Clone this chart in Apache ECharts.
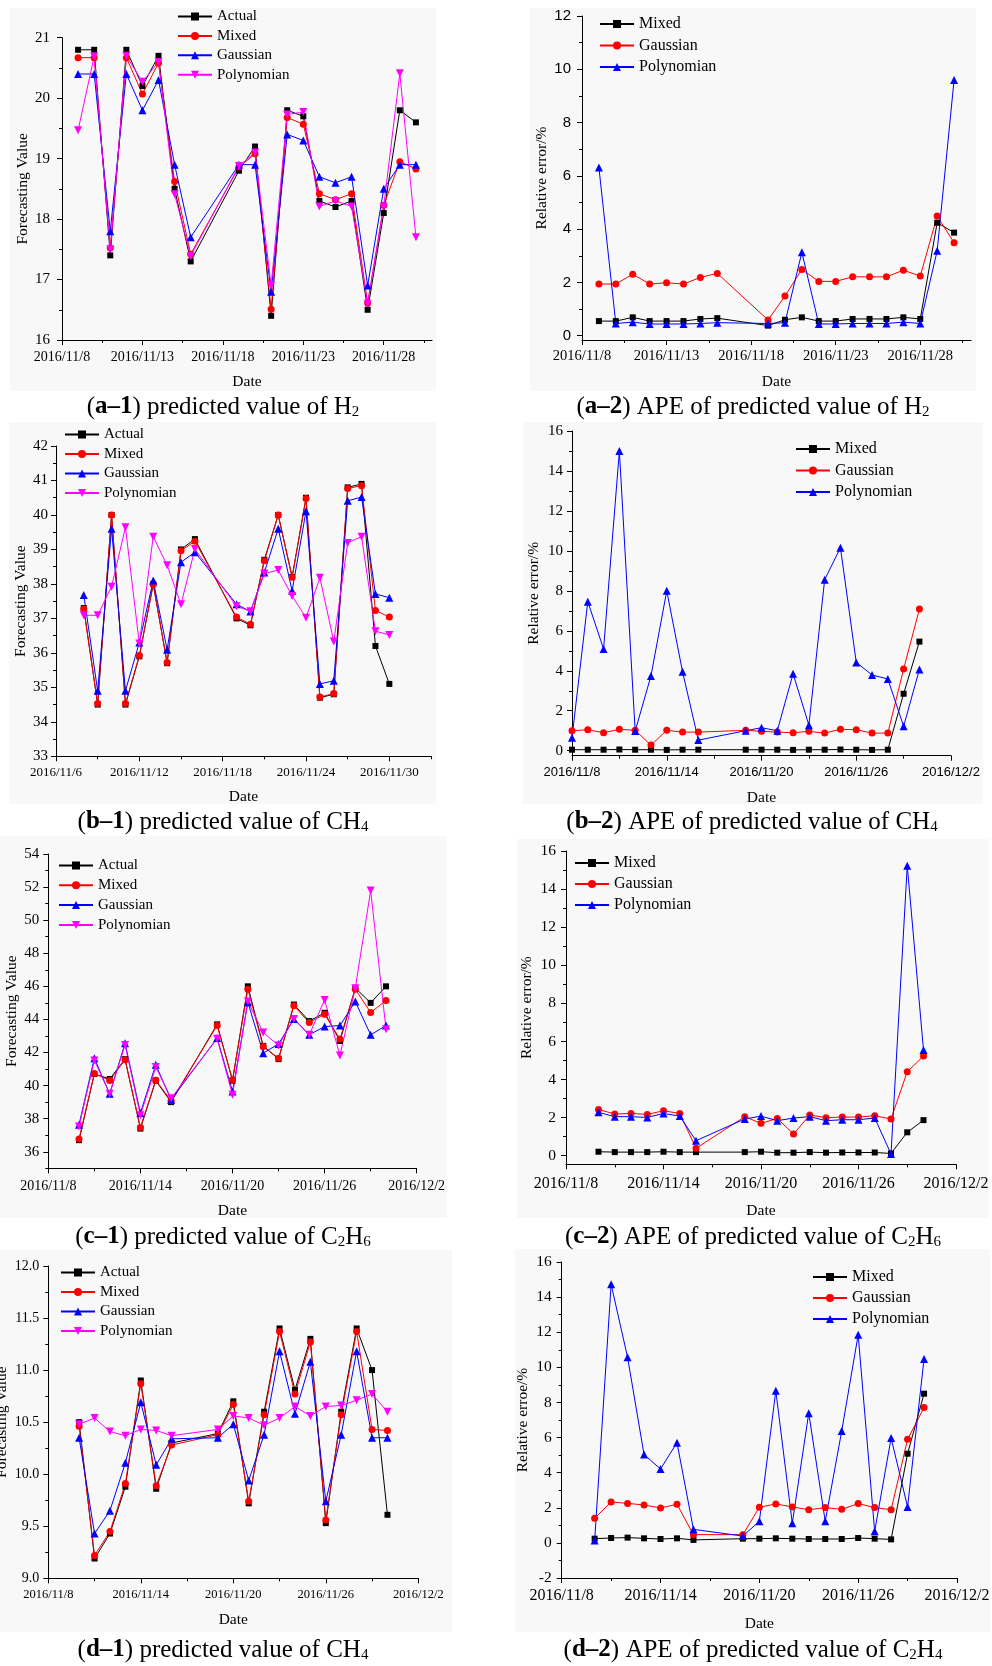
<!DOCTYPE html>
<html>
<head>
<meta charset="utf-8">
<script src="https://cdn.jsdelivr.net/npm/echarts@6/dist/echarts.min.js"></script>
<style>
  html, body { margin: 0; padding: 0; background: #fff; }
  #chart { width: 992px; height: 1666px; }
</style>
</head>
<body>
<div id="chart"></div>
<script>
// ---- dates (x values) ----
const datesA = ['2016/11/9', '2016/11/10', '2016/11/11', '2016/11/12', '2016/11/13', '2016/11/14', '2016/11/15', '2016/11/16',
  '2016/11/19', '2016/11/20', '2016/11/21', '2016/11/22', '2016/11/23', '2016/11/24', '2016/11/25', '2016/11/26',
  '2016/11/27', '2016/11/28', '2016/11/29', '2016/11/30'];
const datesB = ['2016/11/8', '2016/11/9', '2016/11/10', '2016/11/11', '2016/11/12', '2016/11/13', '2016/11/14', '2016/11/15', '2016/11/16',
  '2016/11/19', '2016/11/20', '2016/11/21', '2016/11/22', '2016/11/23', '2016/11/24', '2016/11/25', '2016/11/26',
  '2016/11/27', '2016/11/28', '2016/11/29', '2016/11/30'];
const datesC = ['2016/11/10', '2016/11/11', '2016/11/12', '2016/11/13', '2016/11/14', '2016/11/15', '2016/11/16',
  '2016/11/19', '2016/11/20', '2016/11/21', '2016/11/22', '2016/11/23', '2016/11/24', '2016/11/25', '2016/11/26',
  '2016/11/27', '2016/11/28', '2016/11/29', '2016/11/30'];

// ---- (a-1) H2 ----
const h2Actual = [20.8, 20.8, 17.4, 20.8, 20.2, 20.7, 18.5, 17.3, 18.8, 19.2, 16.4, 19.8, 19.7, 18.3, 18.2, 18.3, 16.5, 18.1, 19.8, 19.6];
const h2Mixed = [20.67, 20.67, 17.52, 20.67, 20.07, 20.58, 18.62, 17.42, 18.86, 19.08, 16.51, 19.68, 19.57, 18.42, 18.32, 18.42, 16.61, 18.23, 18.95, 18.83];
const h2Gauss = [20.4, 20.4, 17.8, 20.4, 19.8, 20.3, 18.9, 17.7, 18.9, 18.9, 16.8, 19.4, 19.3, 18.7, 18.6, 18.7, 16.9, 18.5, 18.9, 18.9];
const h2Poly = [19.47, 20.69, 17.5, 20.7, 20.27, 20.6, 18.41, 17.39, 18.88, 19.1, 16.9, 19.73, 19.77, 18.21, 18.3, 18.21, 16.6, 18.21, 20.41, 17.7];

// ---- (a-2) APE H2 ----
const h2ApeMixed = [0.55, 0.55, 0.69, 0.55, 0.55, 0.55, 0.63, 0.66, 0.38, 0.6, 0.69, 0.55, 0.55, 0.63, 0.63, 0.63, 0.69, 0.63, 4.24, 3.87];
const h2ApeGauss = [1.94, 1.94, 2.31, 1.94, 1.99, 1.94, 2.19, 2.34, 0.59, 1.49, 2.49, 2.04, 2.04, 2.21, 2.21, 2.21, 2.46, 2.24, 4.49, 3.49];
const h2ApePoly = [6.31, 0.46, 0.51, 0.44, 0.44, 0.44, 0.46, 0.49, 0.46, 0.49, 3.13, 0.44, 0.44, 0.46, 0.46, 0.46, 0.51, 0.46, 3.19, 9.6];

// ---- (b-1) CH4 ----
const ch4Actual = [37.3, 34.5, 40.0, 34.5, 35.9, 38.0, 35.7, 39.0, 39.3, 37.0, 36.8, 38.7, 40.0, 38.2, 40.5, 34.7, 34.8, 40.8, 40.9, 36.2, 35.1];
const ch4Mixed = [37.27, 34.53, 40.0, 34.53, 35.92, 37.99, 35.72, 38.96, 39.24, 37.04, 36.83, 38.67, 40.0, 38.19, 40.48, 34.72, 34.82, 40.77, 40.85, 37.23, 37.04];
const ch4Gauss = [37.68, 34.9, 39.6, 34.9, 36.3, 38.1, 36.09, 38.63, 38.92, 37.41, 37.2, 38.33, 39.6, 37.8, 40.11, 35.1, 35.19, 40.41, 40.52, 37.71, 37.6];
const ch4Poly = [37.09, 37.09, 37.92, 39.64, 36.27, 39.37, 38.54, 37.41, 39.01, 37.35, 37.21, 38.3, 38.4, 37.65, 37.02, 38.18, 36.33, 39.19, 39.37, 36.63, 36.52];

// ---- (b-2) APE CH4 ----
const ch4ApeMixed = [0.05, 0.05, 0.05, 0.06, 0.05, 0.05, 0.04, 0.05, 0.05, 0.05, 0.05, 0.05, 0.04, 0.05, 0.05, 0.06, 0.05, 0.04, 0.05, 2.85, 5.46];
const ch4ApeGauss = [1.0, 1.05, 0.9, 1.07, 1.02, 0.28, 1.02, 0.93, 0.93, 1.02, 0.97, 0.93, 0.9, 0.97, 0.88, 1.07, 1.05, 0.88, 0.88, 4.09, 7.09];
const ch4ApePoly = [0.65, 7.46, 5.09, 15.0, 0.98, 3.74, 8.0, 3.95, 0.53, 1.0, 1.15, 1.0, 3.85, 1.28, 8.56, 10.16, 4.42, 3.79, 3.59, 1.22, 4.07];

// ---- (c-1) C2H6 ----
const c2h6Actual = [36.7, 40.7, 40.4, 41.6, 37.4, 40.3, 39.0, 43.7, 40.3, 46.0, 42.4, 41.6, 44.9, 43.9, 44.4, 42.7, 45.9, 45.0, 46.0];
const c2h6Mixed = [36.77, 40.73, 40.31, 41.56, 37.47, 40.33, 39.08, 43.63, 40.35, 45.83, 42.36, 41.66, 44.82, 43.81, 44.32, 42.81, 45.83, 44.42, 45.14];
const c2h6Gauss = [37.63, 41.66, 39.5, 42.56, 38.34, 41.26, 39.14, 42.87, 39.65, 45.04, 41.96, 42.52, 44.03, 43.07, 43.57, 43.63, 45.08, 43.07, 43.63];
const c2h6Poly = [37.53, 41.52, 39.5, 42.46, 38.2, 41.12, 39.24, 42.83, 39.44, 45.08, 43.21, 42.42, 44.03, 43.07, 45.18, 41.82, 45.89, 51.79, 43.41];

// ---- (c-2) APE C2H6 ----
const c2h6ApeMixed = [0.21, 0.19, 0.19, 0.19, 0.21, 0.19, 0.19, 0.19, 0.21, 0.16, 0.16, 0.19, 0.16, 0.17, 0.17, 0.17, 0.12, 1.23, 1.87];
const c2h6ApeGauss = [2.43, 2.19, 2.22, 2.17, 2.36, 2.22, 0.39, 2.05, 1.7, 1.96, 1.14, 2.14, 2.0, 2.03, 2.03, 2.1, 1.93, 4.41, 5.23];
const c2h6ApePoly = [2.28, 2.05, 2.05, 2.01, 2.22, 2.08, 0.79, 1.93, 2.08, 1.84, 1.98, 2.05, 1.84, 1.89, 1.89, 1.98, 0.09, 15.23, 5.55];

// ---- (d-1) ----
const d1Actual = [10.5, 9.19, 9.43, 9.88, 10.9, 9.86, 10.3, 10.39, 10.7, 9.72, 10.6, 11.4, 10.81, 11.3, 9.53, 10.6, 11.4, 11.0, 9.61];
const d1Mixed = [10.46, 9.22, 9.45, 9.91, 10.87, 9.89, 10.28, 10.38, 10.67, 9.74, 10.57, 11.37, 10.77, 11.27, 9.56, 10.57, 11.37, 10.43, 10.42];
const d1Gauss = [10.35, 9.43, 9.65, 10.11, 10.69, 10.09, 10.34, 10.35, 10.48, 9.94, 10.38, 11.18, 10.58, 11.08, 9.74, 10.38, 11.18, 10.35, 10.35];
const d1Poly = [10.48, 10.54, 10.41, 10.37, 10.43, 10.42, 10.37, 10.43, 10.56, 10.54, 10.47, 10.54, 10.65, 10.56, 10.65, 10.66, 10.71, 10.77, 10.6];

// ---- (d-2) APE C2H4 ----
const d2ApeMixed = [0.24, 0.28, 0.3, 0.26, 0.22, 0.26, 0.17, 0.24, 0.24, 0.26, 0.24, 0.22, 0.22, 0.22, 0.28, 0.24, 0.2, 5.08, 8.5];
const d2ApeGauss = [1.4, 2.33, 2.25, 2.16, 1.99, 2.2, 0.47, 0.47, 2.03, 2.22, 2.05, 1.89, 2.01, 1.91, 2.24, 2.01, 1.89, 5.9, 7.71];
const d2ApePoly = [0.13, 14.73, 10.57, 5.03, 4.21, 5.71, 0.77, 0.39, 1.23, 8.66, 1.12, 7.39, 1.23, 6.37, 11.86, 0.66, 5.97, 2.05, 10.48];

// ---- ticks ----
const xTicksA = [8, 13, 18, 23, 28], xMinorA = [10.5, 15.5, 20.5, 25.5, 30.5];
const xTicksB = [6, 12, 18, 24, 30], xMinorB = [9, 15, 21, 27, 33];
const xTicks = [8, 14, 20, 26, 32], xMinor = [11, 17, 23, 29];
const yTicksA1 = [16, 17, 18, 19, 20, 21], yMinorA1 = [16.5, 17.5, 18.5, 19.5, 20.5];
const yTicksA2 = [0, 2, 4, 6, 8, 10, 12], yMinorA2 = [1, 3, 5, 7, 9, 11];
const yTicksB1 = [33, 34, 35, 36, 37, 38, 39, 40, 41, 42], yMinorB1 = [33.5, 34.5, 35.5, 36.5, 37.5, 38.5, 39.5, 40.5, 41.5];
const yTicks16 = [0, 2, 4, 6, 8, 10, 12, 14, 16], yMinor16 = [1, 3, 5, 7, 9, 11, 13, 15];
const yTicksC1 = [36, 38, 40, 42, 44, 46, 48, 50, 52, 54], yMinorC1 = [35, 37, 39, 41, 43, 45, 47, 49, 51, 53];
const yTicksD1 = [9, 9.5, 10, 10.5, 11, 11.5, 12], yMinorD1 = [9.25, 9.75, 10.25, 10.75, 11.25, 11.75];
const yTicksD2 = [-2, 0, 2, 4, 6, 8, 10, 12, 14, 16], yMinorD2 = [-1, 1, 3, 5, 7, 9, 11, 13, 15];

const SERIF = '"Liberation Serif", "Times New Roman", serif';
const SANS = '"Liberation Sans", Arial, sans-serif';

const ST = {
  black: { symbol: 'rect', size: 6, color: '#000000' },
  red: { symbol: 'circle', size: 7, color: '#ff0000' },
  blue: { symbol: 'triangle', size: 8, color: '#0000ff' },
  magenta: { symbol: 'triangle', size: 8, rotate: 180, color: '#ff00ff' }
};

function dayNum(s) {
  const p = s.split('/').map(Number);
  return p[1] === 11 ? p[2] : 30 + p[2];
}
function dayLabel(v) {
  return v <= 30 ? '2016/11/' + v : '2016/12/' + (v - 30);
}

const FV = 'Forecasting Value', RE = 'Relative error/%';

const panels = [
  { bg: [10, 8, 426, 383], grid: [62, 37.7, 370, 302.3],
    x: { min: 8, max: 31, major: xTicksA, minor: xMinorA, size: 14, font: SERIF, margin: 10, gap: 34, name: 'Date' },
    y: { min: 16, max: 21, major: yTicksA1, minor: yMinorA1, size: 15, font: SERIF, margin: 12, gap: 27, name: FV },
    legend: [177, 17, 20.4, 15],
    caption: [223, 407, '({b|a–1}) predicted value of H{s|2}'],
    series: [['Actual', datesA, h2Actual, ST.black], ['Mixed', datesA, h2Mixed, ST.red],
             ['Gaussian', datesA, h2Gauss, ST.blue], ['Polynomian', datesA, h2Poly, ST.magenta]] },
  { bg: [530, 8, 446, 383], grid: [582, 16, 389, 324],
    x: { min: 8, max: 31, major: xTicksA, minor: xMinorA, size: 14.5, font: SERIF, margin: 9, gap: 34, name: 'Date' },
    y: { min: -0.16, max: 12, major: yTicksA2, minor: yMinorA2, size: 15, font: SANS, margin: 11, gap: 32, name: RE },
    legend: [599, 24, 21.5, 16],
    caption: [753, 407, '({b|a–2}) APE of predicted value of H{s|2}'],
    series: [['Mixed', datesA, h2ApeMixed, ST.black], ['Gaussian', datesA, h2ApeGauss, ST.red],
             ['Polynomian', datesA, h2ApePoly, ST.blue]] },
  { bg: [9, 422, 427, 382], grid: [56, 446, 375, 310.3],
    x: { min: 6, max: 33, major: xTicksB, minor: xMinorB, size: 13, font: SERIF, margin: 10, gap: 33, name: 'Date' },
    y: { min: 33, max: 42, major: yTicksB1, minor: yMinorB1, size: 15, font: SERIF, margin: 8, gap: 27, name: FV },
    legend: [64, 435, 20.5, 15],
    caption: [223, 822, '({b|b–1}) predicted value of CH{s|4}'],
    series: [['Actual', datesB, ch4Actual, ST.black], ['Mixed', datesB, ch4Mixed, ST.red],
             ['Gaussian', datesB, ch4Gauss, ST.blue], ['Polynomian', datesB, ch4Poly, ST.magenta]] },
  { bg: [523, 422, 460, 382], grid: [572, 431, 379, 324.7],
    x: { min: 8, max: 32, major: xTicks, minor: xMinor, size: 13, font: SANS, margin: 10, gap: 34, name: 'Date' },
    y: { min: -0.25, max: 16, major: yTicks16, minor: yMinor16, size: 15, font: SERIF, margin: 9, gap: 30, name: RE },
    legend: [795, 449, 21.5, 16],
    caption: [752, 822, '({b|b–2}) APE of predicted value of CH{s|4}'],
    series: [['Mixed', datesB, ch4ApeMixed, ST.black], ['Gaussian', datesB, ch4ApeGauss, ST.red],
             ['Polynomian', datesB, ch4ApePoly, ST.blue]] },
  { bg: [0, 836, 447, 382], grid: [48.3, 854, 368.4, 314.3],
    x: { min: 8, max: 32, major: xTicks, minor: xMinor, size: 14, font: SERIF, margin: 11, gap: 35, name: 'Date' },
    y: { min: 35, max: 54, major: yTicksC1, minor: yMinorC1, size: 15, font: SERIF, margin: 9, gap: 27, name: FV },
    legend: [58, 866, 20.8, 15],
    caption: [223, 1237, '({b|c–1}) predicted value of C{s|2}H{s|6}'],
    series: [['Actual', datesC, c2h6Actual, ST.black], ['Mixed', datesC, c2h6Mixed, ST.red],
             ['Gaussian', datesC, c2h6Gauss, ST.blue], ['Polynomian', datesC, c2h6Poly, ST.magenta]] },
  { bg: [517, 839, 472, 379], grid: [566, 851, 390, 313.3],
    x: { min: 8, max: 32, major: xTicks, minor: xMinor, size: 16, font: SERIF, margin: 11, gap: 39, name: 'Date' },
    y: { min: -0.45, max: 16, major: yTicks16, minor: yMinor16, size: 15.5, font: SERIF, margin: 10, gap: 31, name: RE },
    legend: [574, 863, 21, 16],
    caption: [753, 1237, '({b|c–2}) APE of predicted value of C{s|2}H{s|6}'],
    series: [['Mixed', datesC, c2h6ApeMixed, ST.black], ['Gaussian', datesC, c2h6ApeGauss, ST.red],
             ['Polynomian', datesC, c2h6ApePoly, ST.blue]] },
  { bg: [0, 1250, 452, 382], grid: [48.3, 1266, 370, 312.3],
    x: { min: 8, max: 32, major: xTicks, minor: xMinor, size: 12.5, font: SERIF, margin: 10, gap: 34, name: 'Date' },
    y: { min: 9, max: 12, major: yTicksD1, minor: yMinorD1, size: 14, font: SERIF, margin: 9, gap: 38, name: FV, dec: 1 },
    legend: [60, 1273, 20.5, 15],
    caption: [223, 1650, '({b|d–1}) predicted value of CH{s|4}'],
    series: [['Actual', datesC, d1Actual, ST.black], ['Mixed', datesC, d1Mixed, ST.red],
             ['Gaussian', datesC, d1Gauss, ST.blue], ['Polynomian', datesC, d1Poly, ST.magenta]] },
  { bg: [515, 1249, 475, 383], grid: [561.7, 1262, 395.3, 316],
    x: { min: 8, max: 32, major: xTicks, minor: xMinor, size: 16, font: SERIF, margin: 10, gap: 38, name: 'Date' },
    y: { min: -2, max: 16, major: yTicksD2, minor: yMinorD2, size: 15.5, font: SERIF, margin: 10, gap: 31, name: 'Relative erroe/%' },
    legend: [812, 1277, 21, 16],
    caption: [753, 1650, '({b|d–2}) APE of predicted value of C{s|2}H{s|4}'],
    series: [['Mixed', datesC, d2ApeMixed, ST.black], ['Gaussian', datesC, d2ApeGauss, ST.red],
             ['Polynomian', datesC, d2ApePoly, ST.blue]] }
];

function axisPair(dim, gi, c) {
  const pos = dim === 'x' ? 'bottom' : 'left';
  const fmt = dim === 'x' ? dayLabel : (v => c.dec ? v.toFixed(c.dec) : String(v));
  return [{
    type: 'value', gridIndex: gi, min: c.min, max: c.max, position: pos,
    splitLine: { show: false },
    axisLine: { show: true, onZero: false, lineStyle: { color: '#000', width: 1 } },
    axisTick: { show: true, length: 5, customValues: c.major, lineStyle: { color: '#000', width: 1 } },
    axisLabel: { show: true, customValues: c.major, margin: c.margin, color: '#000',
                 fontFamily: c.font, fontSize: c.size, formatter: fmt },
    name: c.name, nameLocation: 'middle', nameGap: c.gap,
    nameTextStyle: { color: '#000', fontFamily: SERIF, fontSize: 15.5 }
  }, {
    type: 'value', gridIndex: gi, min: c.min, max: c.max, position: pos,
    splitLine: { show: false },
    axisLine: { show: false, onZero: false },
    axisTick: { show: true, length: 3, customValues: c.minor, lineStyle: { color: '#000', width: 1 } },
    axisLabel: { show: false }
  }];
}

const grids = [], xAxes = [], yAxes = [], series = [], legends = [], graphics = [];

panels.forEach((p, i) => {
  grids.push({ left: p.grid[0], top: p.grid[1], width: p.grid[2], height: p.grid[3],
               containLabel: false, outerBoundsMode: 'none' });
  xAxes.push(...axisPair('x', i, p.x));
  yAxes.push(...axisPair('y', i, p.y));
  const names = [];
  p.series.forEach(([name, dates, vals, st]) => {
    const full = name + '#' + i;
    names.push(full);
    series.push({
      type: 'line', name: full, xAxisIndex: 2 * i, yAxisIndex: 2 * i,
      data: dates.map((d, k) => [dayNum(d), vals[k]]),
      symbol: st.symbol, symbolSize: st.size, symbolRotate: st.rotate || 0,
      showAllSymbol: true, silent: true,
      lineStyle: { color: st.color, width: 1 },
      itemStyle: { color: st.color }
    });
  });
  const [lx, ly, lsp, lfs] = p.legend;
  legends.push({
    orient: 'vertical', left: lx, top: ly - 8, itemGap: lsp - 16, padding: 0,
    itemWidth: 34, itemHeight: 10, selectedMode: false,
    data: names, formatter: n => n.split('#')[0],
    textStyle: { fontFamily: SERIF, fontSize: lfs, color: '#000' }
  });
  graphics.push({
    type: 'rect', z: -10, silent: true,
    shape: { x: p.bg[0], y: p.bg[1], width: p.bg[2], height: p.bg[3] },
    style: { fill: '#f8f8f8' }
  });
  graphics.push({
    type: 'text', x: p.caption[0], y: p.caption[1], silent: true,
    style: {
      text: p.caption[2], fill: '#000', fontFamily: SERIF, fontSize: 25,
      align: 'center', verticalAlign: 'middle', textAlign: 'center', textVerticalAlign: 'middle',
      rich: {
        b: { fontFamily: SERIF, fontSize: 25, fontWeight: 'bold', fill: '#000' },
        s: { fontFamily: SERIF, fontSize: 15, fill: '#000', verticalAlign: 'bottom' }
      }
    }
  });
});

const chart = echarts.init(document.getElementById('chart'), null, { renderer: 'canvas' });
chart.setOption({
  animation: false,
  backgroundColor: '#ffffff',
  grid: grids,
  xAxis: xAxes,
  yAxis: yAxes,
  legend: legends,
  graphic: { elements: graphics },
  series: series
});
</script>
</body>
</html>
